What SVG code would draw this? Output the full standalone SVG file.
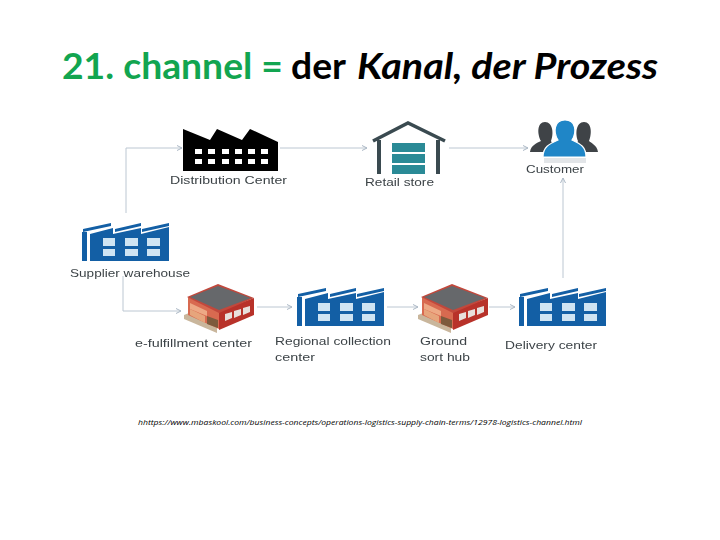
<svg xmlns="http://www.w3.org/2000/svg" xmlns:xlink="http://www.w3.org/1999/xlink" width="720" height="540" viewBox="0 0 720 540">
<style>
.title{font-family:Lato,"Liberation Sans",sans-serif;font-size:36px;fill:#000}
.lbl{font-family:"Liberation Sans",Arial,sans-serif;font-size:11.5px;fill:#3c4347;filter:url(#soft)}
.conn{fill:none;stroke:#bcc7d2;stroke-width:1;marker-end:url(#arr)}
.url{font-family:"Open Sans","Liberation Sans",sans-serif;font-size:8px;font-style:italic;fill:#000}
.fb{fill:#135fa5}
.fw{fill:#cfe4f3}
</style>
<defs>
<filter id="soft" x="-10%" y="-30%" width="120%" height="160%"><feGaussianBlur stdDeviation="0.3"/></filter>
<marker id="arr" markerWidth="7" markerHeight="7" refX="5" refY="3" orient="auto" markerUnits="userSpaceOnUse"><path d="M0,0.5 L5,3 L0,5.5" fill="none" stroke="#aab7c4" stroke-width="1"/></marker>
<g id="factory">
<path class="fb" d="M0,9 H5 V38 H0 Z"/>
<path class="fb" d="M1,6 L29,0 V3 L1,9 Z M33,6 L59,0 V3 L33,9 Z M60,6 L87,0 V3 L60,9 Z"/>
<path class="fb" d="M8,11 L31,5 V11 L59,5 V11 L87,4 V38 H8 Z"/>
<path class="fw" d="M21,15 H33 V23 H21 Z M43,15 H56 V23 H43 Z M65,15 H78 V23 H65 Z M21,26 H33 V33 H21 Z M43,26 H56 V33 H43 Z M65,26 H78 V33 H65 Z"/>
</g>
<g id="building">
<path fill="#c9b69c" d="M-3,30 L2,28 L30,40 L30,48 L-3,34 Z"/>
<path fill="#d86a50" d="M1,12 L32,26 V44 L1,30 Z"/>
<path fill="#eda985" d="M3,18 L20,26 V31 L3,24 Z"/>
<path fill="#e6a57c" d="M3,24 L18,31 V38 L3,30 Z"/>
<path fill="#7d5a3c" d="M20,31 L31,35 V43 L20,39 Z"/>
<path fill="#b8322a" d="M32,26 L67,13 V30 L32,45 Z"/>
<path fill="#c1483c" d="M0,12 L31,-1 L67,13 L32,28 Z"/>
<path fill="#66686b" d="M31,1 L64,13 L32,25 L3,12 Z"/>
<path fill="#e8e0dc" d="M38,29 L45,27 V33 L38,36 Z M47,26 L54,24 V30 L47,33 Z M56,23 L63,21 V27 L56,30 Z"/>
</g>
</defs>
<rect width="720" height="540" fill="#fff"/>
<g id="title">
<text class="title" x="62" y="79" font-weight="700" style="fill:#12a550" textLength="221" lengthAdjust="spacingAndGlyphs">21. channel =</text>
<text class="title" x="291" y="79" font-weight="700" textLength="55" lengthAdjust="spacingAndGlyphs">der</text>
<text class="title" x="357" y="79" font-weight="700" font-style="italic" textLength="301" lengthAdjust="spacingAndGlyphs">Kanal, der Prozess</text>
</g>
<g id="connectors">
<path class="conn" d="M126,213 V148 H182"/>
<path class="conn" d="M280,148 H367"/>
<path class="conn" d="M449,148 H528"/>
<path class="conn" d="M563,278 V178"/>
<path class="conn" d="M123,276 V311 H181"/>
<path class="conn" d="M257,307 H292"/>
<path class="conn" d="M387,307 H418"/>
<path class="conn" d="M489,307 H515"/>
</g>
<g id="distribution-center">
<path fill="#000" d="M183,129 L210,140 L217,129 L242,140 L250,129 L278,142 V171 H183 Z"/>
<path fill="#fff" d="M195,149 h7 v5 h-7 Z M208,149 h7 v5 h-7 Z M222,149 h7 v5 h-7 Z M235,149 h7 v5 h-7 Z M248,149 h7 v5 h-7 Z M261,149 h7 v5 h-7 Z M195,159 h7 v5 h-7 Z M208,159 h7 v5 h-7 Z M222,159 h7 v5 h-7 Z M235,159 h7 v5 h-7 Z M248,159 h7 v5 h-7 Z M261,159 h7 v5 h-7 Z"/>
<text class="lbl" x="170" y="184" textLength="117" lengthAdjust="spacingAndGlyphs">Distribution Center</text>
</g>
<g id="retail-store">
<path fill="none" stroke="#3a4a50" stroke-width="3.5" d="M373,141 L408,123 L445,141"/>
<path fill="#3a4a50" d="M377,140 h4 v34 h-4 Z M436,140 h4 v34 h-4 Z"/>
<path fill="#2a8a96" d="M392,143 h33 v9 h-33 Z M392,154 h33 v9 h-33 Z M392,165 h33 v9 h-33 Z"/>
<text class="lbl" x="365" y="186" textLength="69" lengthAdjust="spacingAndGlyphs">Retail store</text>
</g>
<g id="customer">
<path fill="#3f4347" d="M530,152 C531,145 537,143 541,141 C537,134 537,122 545,122 C553,122 554,134 551,141 L556,152 Z M598,152 C597,145 591,143 589,141 C592,134 592,122 584,122 C576,122 575,134 578,141 L573,152 Z"/>
<path fill="#1f86c7" stroke="#fff" stroke-width="1.2" d="M543,157 C543,147 549,144 558,140 C553,132 554,120 565,120 C576,120 577,132 572,140 C581,144 586,147 586,157 Z"/>
<path fill="#e2e5e8" d="M544,158 H586 V163 H544 Z"/>
<text class="lbl" x="526" y="173" textLength="58" lengthAdjust="spacingAndGlyphs">Customer</text>
</g>
<g id="supplier-warehouse">
<use xlink:href="#factory" href="#factory" x="82" y="223"/>
<text class="lbl" x="70" y="277" textLength="120" lengthAdjust="spacingAndGlyphs">Supplier warehouse</text>
</g>
<g id="e-fulfillment-center">
<use xlink:href="#building" href="#building" x="187" y="285"/>
<text class="lbl" x="135" y="347" textLength="117" lengthAdjust="spacingAndGlyphs">e-fulfillment center</text>
</g>
<g id="regional-collection-center">
<use xlink:href="#factory" href="#factory" x="297" y="288"/>
<text class="lbl" x="275" y="345" textLength="116" lengthAdjust="spacingAndGlyphs">Regional collection</text>
<text class="lbl" x="275" y="361" textLength="40" lengthAdjust="spacingAndGlyphs">center</text>
</g>
<g id="ground-sort-hub">
<use xlink:href="#building" href="#building" x="421" y="285"/>
<text class="lbl" x="420" y="345" textLength="47" lengthAdjust="spacingAndGlyphs">Ground</text>
<text class="lbl" x="420" y="361" textLength="50" lengthAdjust="spacingAndGlyphs">sort hub</text>
</g>
<g id="delivery-center">
<use xlink:href="#factory" href="#factory" x="519" y="288"/>
<text class="lbl" x="505" y="349" textLength="92" lengthAdjust="spacingAndGlyphs">Delivery center</text>
</g>
<text class="url" x="138" y="425" textLength="444" lengthAdjust="spacingAndGlyphs">hhttps://www.mbaskool.com/business-concepts/operations-logistics-supply-chain-terms/12978-logistics-channel.html</text>
</svg>
